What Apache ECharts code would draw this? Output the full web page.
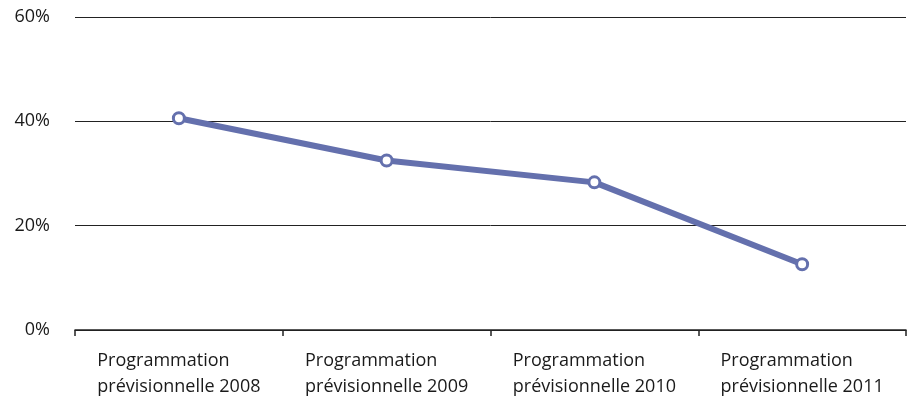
<!DOCTYPE html>
<html>
<head>
<meta charset="utf-8">
<script src="https://cdn.jsdelivr.net/npm/echarts@6/dist/echarts.min.js"></script>
<style>
  html, body { margin: 0; padding: 0; background: #fff; }
  #chart { width: 914px; height: 399px; }
</style>
</head>
<body>
<div id="chart"></div>
<script>
// Share of the budget per forecast programme
const categories = [
  'Programmation\nprévisionnelle 2008',
  'Programmation\nprévisionnelle 2009',
  'Programmation\nprévisionnelle 2010',
  'Programmation\nprévisionnelle 2011'
];
const values = [40.6, 32.5, 28.3, 12.6];
const yTicks = [0, 20, 40, 60];

const lineColor = '#6470ad';
const fontFamily = '"Open Sans", "DejaVu Sans", sans-serif';

const chart = echarts.init(document.getElementById('chart'));
chart.setOption({
  animation: false,
  grid: { left: 75, right: 8, top: 17, bottom: 69 },
  xAxis: {
    type: 'category',
    data: categories,
    boundaryGap: true,
    axisLine: { show: true, lineStyle: { color: '#222', width: 1.5 } },
    axisTick: { show: true, length: 6, lineStyle: { color: '#222', width: 1.5 } },
    axisLabel: {
      margin: 18,
      formatter: (v) => v.split('\n').map(s => '{a|' + s + '}').join('\n'),
      rich: {
        a: { align: 'left', fontSize: 18, lineHeight: 26, color: '#1a1a1a', fontFamily: fontFamily }
      }
    }
  },
  yAxis: {
    type: 'value',
    min: yTicks[0],
    max: yTicks[yTicks.length - 1],
    interval: 20,
    axisLine: { show: false },
    axisTick: { show: false },
    splitLine: { lineStyle: { color: '#222', width: 1 } },
    axisLabel: {
      margin: 25,
      formatter: '{value}%',
      fontSize: 18,
      color: '#1a1a1a',
      fontFamily: fontFamily
    }
  },
  series: [{
    type: 'line',
    data: values,
    symbol: 'circle',
    symbolSize: 11,
    lineStyle: { color: lineColor, width: 6 },
    itemStyle: { color: '#fff', borderColor: lineColor, borderWidth: 3 },
    z: 3
  }]
});
</script>
</body>
</html>
